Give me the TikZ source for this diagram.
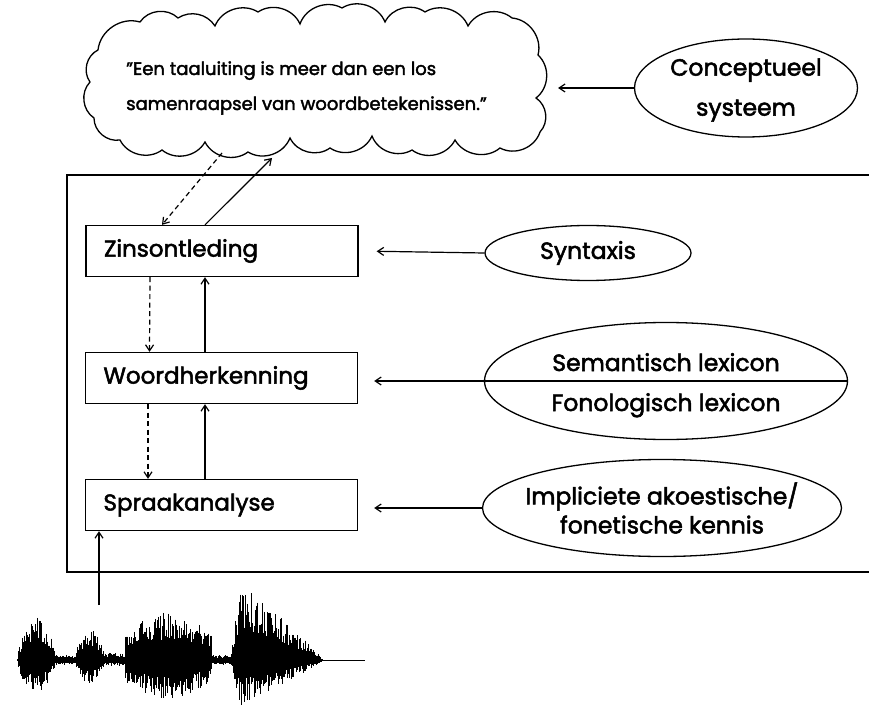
\documentclass[tikz,border=0pt]{standalone}
\usepackage{fontspec}
\setmainfont{Poppins}[FakeBold=2.2]
\usetikzlibrary{shapes.geometric,arrows.meta}
\begin{document}
\begin{tikzpicture}[x=1pt,y=-1pt,
  arr/.style={-{Straight Barb[length=6pt,width=8pt]},line width=1.2pt},
  dsh/.style={arr,dashed,dash pattern=on 5pt off 3.5pt},
  procbox/.style={draw,line width=1.3pt,minimum width=271pt,minimum height=51pt,
    text width=236pt,align=left,inner xsep=18pt,font=\fontsize{23}{27}\selectfont},
  knowell/.style={draw,ellipse,line width=1.3pt,inner sep=0pt},
  elltext/.style={font=\fontsize{23.5}{27}\selectfont,inner sep=0pt,align=center},
  wave/.style={line width=0.8pt}]
\useasboundingbox (0,0) rectangle (869,708);
% outer frame (open on the right)
\draw[line width=1.4pt] (869,175) -- (67,175) -- (67,572) -- (869,572);
% cloud
\draw[line width=1.3pt] (98,50)
  to[bend left=50] (140,22) to[bend left=50] (178,18) to[bend left=45] (215,26)
  to[bend left=50] (258,12) to[bend left=50] (300,24) to[bend left=50] (342,8)
  to[bend left=50] (385,22) to[bend left=50] (425,12) to[bend left=50] (468,26)
  to[bend left=50] (512,18) to[bend left=50] (538,55) to[bend left=50] (536,98)
  to[bend left=50] (540,132) to[bend left=50] (500,148) to[bend left=50] (455,140)
  to[bend left=50] (412,150) to[bend left=50] (372,136) to[bend left=50] (330,148)
  to[bend left=50] (290,138) to[bend left=50] (248,152) to[bend left=50] (205,142)
  to[bend left=50] (162,150) to[bend left=50] (120,140) to[bend left=50] (94,118)
  to[bend left=50] (90,82) to[bend left=50] (98,50);
\node[anchor=base west,align=left,font=\fontsize{18}{35}\selectfont,inner sep=0pt] (quote) at (126,110)
  {"Een taaluiting is meer dan een los\\samenraapsel van woordbetekenissen."};
\coordinate (cloudE) at (538,92);
\coordinate (cloudA) at (222,153);
\coordinate (cloudB) at (272,158);
% ellipses
\node[knowell,minimum width=223pt,minimum height=98pt] (cs) at (746,88) {};
\node[elltext,font=\fontsize{23.5}{40}\selectfont] (cstext) at ([yshift=-2pt]cs.center) {Conceptueel\\systeem};
\node[knowell,minimum width=206pt,minimum height=55pt] (syn) at (588,253) {};
\node[elltext] (syntext) at (syn.center) {Syntaxis};
\node[knowell,minimum width=363pt,minimum height=117pt] (lex) at (666,381) {};
\node[anchor=base,elltext] (sem) at ([yshift=10pt]lex.center) {Semantisch lexicon};
\node[anchor=base,elltext] (fon) at ([yshift=-30pt]lex.center) {Fonologisch lexicon};
\node[knowell,minimum width=359pt,minimum height=97pt] (imp) at (662,508) {};
\node[elltext,font=\fontsize{23.5}{29}\selectfont] (imptext) at (imp.center) {Impliciete akoestische/\\fonetische kennis};
% process boxes
\node[procbox] (zin) at (222,251) {Zinsontleding};
\node[procbox] (woord) at (221.5,378) {Woordherkenning};
\node[procbox] (spraak) at (221.5,505) {Spraakanalyse};
% connectors
\draw[arr,shorten >=20pt] (cs.west) -- (cs.west -| cloudE);
\draw[arr,shorten >=18pt] (syn.west) -- (zin.east);
\draw[arr,shorten >=16pt] (lex.east) -- (lex.west) -- (woord.east |- lex.west);
\draw[arr,shorten >=16pt] (imp.west) -- (imp.west -| spraak.east);
\draw[dsh] (cloudA) -- ([xshift=-60pt]zin.north);
\draw[arr] ([xshift=-17pt]zin.north) -- (cloudB);
\draw[dsh] ([xshift=-72pt]zin.south) -- ([xshift=-72pt]woord.north);
\draw[arr] ([xshift=-16.5pt]woord.north) -- ([xshift=-17pt]zin.south);
\draw[dsh] ([xshift=-73.5pt]woord.south) -- ([xshift=-73.5pt]spraak.north);
\draw[arr] ([xshift=-16.5pt]spraak.north) -- ([xshift=-16.5pt]woord.south);
\coordinate (waveIn) at (99,605);
\draw[arr] (waveIn) -- (waveIn |- spraak.south);
% waveform
\pgfmathsetseed{4711}
\foreach \xs/\xe/\up/\dn/\ty in {17/55/42/32/1, 55/75/4/4/0, 75/104/30/24/1, 104/125/6/5/0,
   125/211/47/38/2, 211/230/4/4/0, 230/322/85/50/3}{
  \foreach \x in {\xs,\the\numexpr\xs+1\relax,...,\xe}{
    \pgfmathsetmacro{\t}{(\x-\xs)/(\xe-\xs)}
    \pgfmathsetmacro{\sh}{\ty==0 ? 1 : (\ty==1 ? sin(180*\t)^0.6 : (\ty==2 ? 0.55+0.45*sin(180*\t) : min(1,10*\t)*(1-\t)^0.9))}
    \pgfmathsetmacro{\a}{\up*\sh*(0.4+0.6*rnd)+0.8}
    \pgfmathsetmacro{\b}{\dn*\sh*(0.4+0.6*rnd)+0.8}
    \draw[wave] (\x,660-\a) -- (\x,660+\b);
    \draw[wave] (\x+0.5,660-\a*0.7*rnd) -- (\x+0.5,660+\b*0.7*rnd);
  }
}
\draw[line width=1pt] (322,660) -- (365,660);
\end{tikzpicture}
\end{document}
